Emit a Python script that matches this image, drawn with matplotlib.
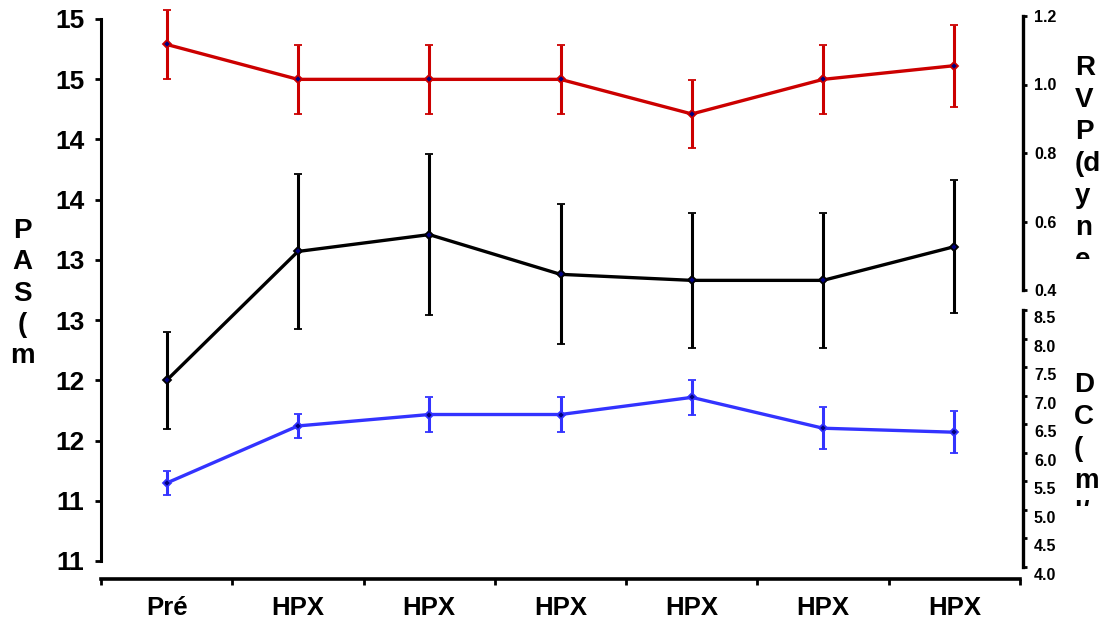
import matplotlib
matplotlib.use("Agg")
import matplotlib.pyplot as plt
from matplotlib.transforms import Bbox, TransformedBbox, ScaledTranslation

plt.rcParams['font.family'] = ['Liberation Sans', 'DejaVu Sans']
plt.rcParams['font.weight'] = 'bold'

# ---- data ---------------------------------------------------------------
categories = ["Pré", "HPX", "HPX", "HPX", "HPX", "HPX", "HPX"]

pas_mean = [12.00, 13.07, 13.21, 12.88, 12.83, 12.83, 13.11]
pas_err = [0.40, 0.64, 0.67, 0.58, 0.56, 0.56, 0.55]

rvp_mean = [1.117, 1.015, 1.015, 1.015, 0.914, 1.015, 1.055]
rvp_err = [0.10, 0.10, 0.10, 0.10, 0.10, 0.10, 0.12]

dc_mean = [5.47, 6.47, 6.67, 6.67, 6.97, 6.43, 6.36]
dc_err = [0.205, 0.205, 0.30, 0.30, 0.30, 0.37, 0.37]

pas_ticks = [10.5, 11.0, 11.5, 12.0, 12.5, 13.0, 13.5, 14.0, 14.5, 15.0]
pas_ticklabels = ["11", "11", "12", "12", "13", "13", "14", "14", "15", "15"]
rvp_ticks = [0.4, 0.6, 0.8, 1.0, 1.2]
dc_ticks = [4.0, 4.5, 5.0, 5.5, 6.0, 6.5, 7.0, 7.5, 8.0, 8.5]

# stacked axis titles (the last line of each is cut by its frame)
pas_title = ["P", "A", "S", "(", "m"]
rvp_title = ["R", "V", "P", "(d", "y", "n", "e"]
dc_title = ["D", "C", "(", "m", "l/"]

RED = "#CC0000"
BLUE = "#3333FF"
BLACK = "#000000"
NAVY = "#000080"

# ---- figure -------------------------------------------------------------
W, H = 1106, 623
fig = plt.figure(figsize=(W / 100, H / 100), dpi=100)

ax_top_px, ax_bot_px = 5, 579
ax_left_px, ax_right_px = 101, 1020
ax = fig.add_axes([ax_left_px / W, (H - ax_bot_px) / H,
                   (ax_right_px - ax_left_px) / W, (ax_bot_px - ax_top_px) / H])
ax_rvp = ax.twinx()
ax_dc = ax.twinx()


def limits(v_hi, px_hi, v_lo, px_lo):
    """Axis limits that place v_hi at pixel row px_hi and v_lo at px_lo."""
    ppu = (px_lo - px_hi) / (v_hi - v_lo)
    return (v_lo - (ax_bot_px - px_lo) / ppu, v_hi + (px_hi - ax_top_px) / ppu)


x = list(range(len(categories)))
ax.set_xlim(-0.5, len(categories) - 0.5)
ax.set_ylim(*limits(15.0, 19, 10.5, 561))
ax_rvp.set_ylim(*limits(1.2, 16, 0.4, 290))
ax_dc.set_ylim(*limits(8.5, 310, 4.0, 567))

common = dict(capsize=2.6, capthick=2.2, elinewidth=2.2, lw=2.4,
              marker='D', markersize=3.6, mew=1.3, mfc=NAVY)

ax.errorbar(x, pas_mean, yerr=pas_err, color=BLACK, mec=BLACK, **common)
ax_rvp.errorbar(x, rvp_mean, yerr=rvp_err, color=RED, mec=RED, **common)
ax_dc.errorbar(x, dc_mean, yerr=dc_err, color=BLUE, mec=BLUE, **common)

# ---- main (left / bottom) axis -----------------------------------------
for s in ("top", "right"):
    ax.spines[s].set_visible(False)
ax.spines["left"].set_linewidth(2.2)
ax.spines["left"].set_bounds(pas_ticks[0], pas_ticks[-1])
ax.spines["bottom"].set_linewidth(2.6)

ax.set_yticks(pas_ticks)
ax.set_yticklabels(pas_ticklabels)
ax.tick_params(axis='y', direction='out', length=4, width=2,
               labelsize=19, pad=8)

ax.set_xticks([i - 0.5 for i in range(len(categories) + 1)])
ax.set_xticklabels([])
ax.set_xticks(x, minor=True)
ax.set_xticklabels(categories, minor=True)
ax.tick_params(axis='x', which='major', direction='out', length=4, width=2)
ax.tick_params(axis='x', which='minor', length=0, labelsize=18.5, pad=12)

# ---- right axes ---------------------------------------------------------
for a, ticks in ((ax_rvp, rvp_ticks), (ax_dc, dc_ticks)):
    for s in ("top", "left", "bottom"):
        a.spines[s].set_visible(False)
    a.spines["right"].set_linewidth(2.4)
    a.spines["right"].set_position(('outward', 2))
    a.spines["right"].set_bounds(ticks[0], ticks[-1])
    a.set_yticks(ticks)
    a.set_yticklabels([f"{t:.1f}" for t in ticks])
    a.tick_params(axis='y', direction='out', length=3, width=2,
                  labelsize=11.5, pad=5)

shift = ScaledTranslation(0, -7 / 100, fig.dpi_scale_trans)
for tick in ax_dc.yaxis.get_major_ticks():
    tick.label2.set_transform(tick.label2.get_transform() + shift)

# ---- stacked axis titles -----------------------------------------------
def stacked(lines, x_px, first_base_px, step_px, clip_px, ha):
    clip = TransformedBbox(Bbox.from_extents(0, 1 - clip_px / H, 1, 1),
                           fig.transFigure)
    for i, s in enumerate(lines):
        t = fig.text(x_px / W, 1 - (first_base_px + i * step_px) / H, s,
                     ha=ha, va='baseline', fontsize=20, fontweight='bold')
        t.set_clip_box(clip)
        t.set_clip_on(True)


stacked(pas_title, 22, 238, 31.3, 372, 'center')
stacked(rvp_title, 1075, 75, 32, 259, 'left')
stacked(dc_title, 1074, 392, 32, 506, 'left')

fig.savefig("out.png", dpi=100)
